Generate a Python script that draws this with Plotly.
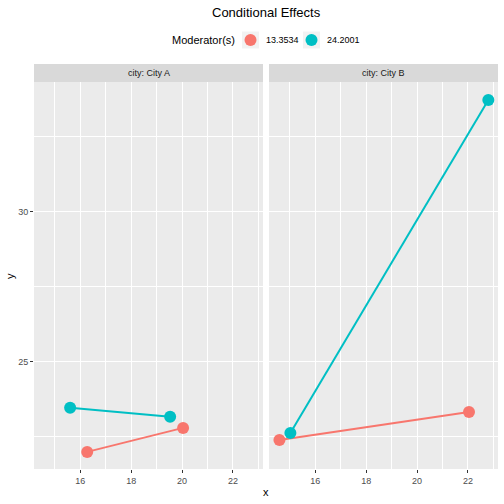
import plotly.graph_objects as go
from plotly.subplots import make_subplots

cities = ["City A", "City B"]
moderators = ["13.3534", "24.2001"]
colors = ["#F8766D", "#00BFC4"]
# x and y values per city per moderator level
x_vals = {
    "City A": {"13.3534": [16.27, 20.04], "24.2001": [15.6, 19.53]},
    "City B": {"13.3534": [14.59, 22.04], "24.2001": [15.02, 22.8]},
}
y_vals = {
    "City A": {"13.3534": [22.0, 22.8], "24.2001": [23.47, 23.17]},
    "City B": {"13.3534": [22.4, 23.33], "24.2001": [22.63, 33.73]},
}
x_ticks = [16, 18, 20, 22]
y_ticks = [25, 30]

W = H = 504
def px_x(p): return p / W
def px_y(p): return 1 - p / H

font = "Liberation Sans, Arial, sans-serif"
fig = make_subplots(rows=1, cols=2, shared_yaxes=True)

for ci, city in enumerate(cities):
    for mi, mod in enumerate(moderators):
        fig.add_trace(go.Scatter(
            x=x_vals[city][mod], y=y_vals[city][mod], mode="lines+markers",
            line=dict(color=colors[mi], width=2),
            marker=dict(color=colors[mi], size=12),
            showlegend=False, hoverinfo="skip"),
            row=1, col=ci + 1)

panel_x = [(34, 263), (269, 498)]
ytop, ybot = 82, 469
axis_common = dict(
    showgrid=True, gridcolor="white", gridwidth=1.1,
    ticks="outside", ticklen=3, tickcolor="#333333", tickwidth=1,
    tickfont=dict(family=font, size=9, color="#4D4D4D"),
    showline=False, zeroline=False,
)
for ci in range(2):
    xa = "xaxis" if ci == 0 else "xaxis2"
    fig.layout[xa].update(
        domain=[px_x(panel_x[ci][0]), px_x(panel_x[ci][1])],
        range=[14.18, 23.18], tickvals=x_ticks,
        minor=dict(tick0=15, dtick=2, showgrid=True, gridcolor="white", gridwidth=0.5, ticks=""),
        **axis_common)
    ya = "yaxis" if ci == 0 else "yaxis2"
    fig.layout[ya].update(
        domain=[px_y(ybot), px_y(ytop)], range=[21.43, 34.33], tickvals=y_ticks,
        minor=dict(tick0=22.5, dtick=5, showgrid=True, gridcolor="white", gridwidth=0.5, ticks=""),
        **axis_common)
fig.layout.yaxis2.update(showticklabels=False, ticks="")

shapes = []
annotations = []
for ci, city in enumerate(cities):
    shapes.append(dict(type="rect", xref="paper", yref="paper",
                       x0=px_x(panel_x[ci][0]), x1=px_x(panel_x[ci][1]),
                       y0=px_y(ytop), y1=px_y(64), fillcolor="#D9D9D9", line=dict(width=0), layer="below"))
    annotations.append(dict(text="city: " + city, xref="paper", yref="paper",
                            x=px_x((panel_x[ci][0] + panel_x[ci][1]) / 2), y=px_y(73),
                            showarrow=False, font=dict(family=font, size=9, color="#1A1A1A"),
                            xanchor="center", yanchor="middle"))
annotations.append(dict(text="Conditional Effects", xref="paper", yref="paper",
                        x=px_x(266), y=px_y(12), showarrow=False,
                        font=dict(family=font, size=13, color="black"), xanchor="center", yanchor="middle"))
annotations.append(dict(text="x", xref="paper", yref="paper", x=px_x(266), y=px_y(492),
                        showarrow=False, font=dict(family=font, size=11, color="black"),
                        xanchor="center", yanchor="middle"))
annotations.append(dict(text="y", xref="paper", yref="paper", x=px_x(10), y=px_y(276),
                        showarrow=False, textangle=-90, font=dict(family=font, size=11, color="black"),
                        xanchor="center", yanchor="middle"))

# legend drawn as keys + labels
annotations.append(dict(text="Moderator(s)", xref="paper", yref="paper", x=px_x(237), y=px_y(40),
                        showarrow=False, font=dict(family=font, size=11, color="black"),
                        xanchor="right", yanchor="middle"))
key_left = [242, 303]
for mi, mod in enumerate(moderators):
    kx = key_left[mi]
    shapes.append(dict(type="rect", xref="paper", yref="paper",
                       x0=px_x(kx), x1=px_x(kx + 17), y0=px_y(48.5), y1=px_y(31.5),
                       fillcolor="#F2F2F2", line=dict(width=0)))
    cx = kx + 8.5
    shapes.append(dict(type="circle", xref="paper", yref="paper",
                       x0=px_x(cx - 6), x1=px_x(cx + 6), y0=px_y(46), y1=px_y(34),
                       fillcolor=colors[mi], line=dict(width=0)))
    annotations.append(dict(text=mod, xref="paper", yref="paper", x=px_x(kx + 22), y=px_y(40),
                            showarrow=False, font=dict(family=font, size=9, color="black"),
                            xanchor="left", yanchor="middle"))

fig.update_layout(
    width=W, height=H, margin=dict(l=0, r=0, t=0, b=0),
    paper_bgcolor="white", plot_bgcolor="#EBEBEB",
    shapes=shapes, annotations=annotations, showlegend=False,
)
fig.write_html("out.html")
